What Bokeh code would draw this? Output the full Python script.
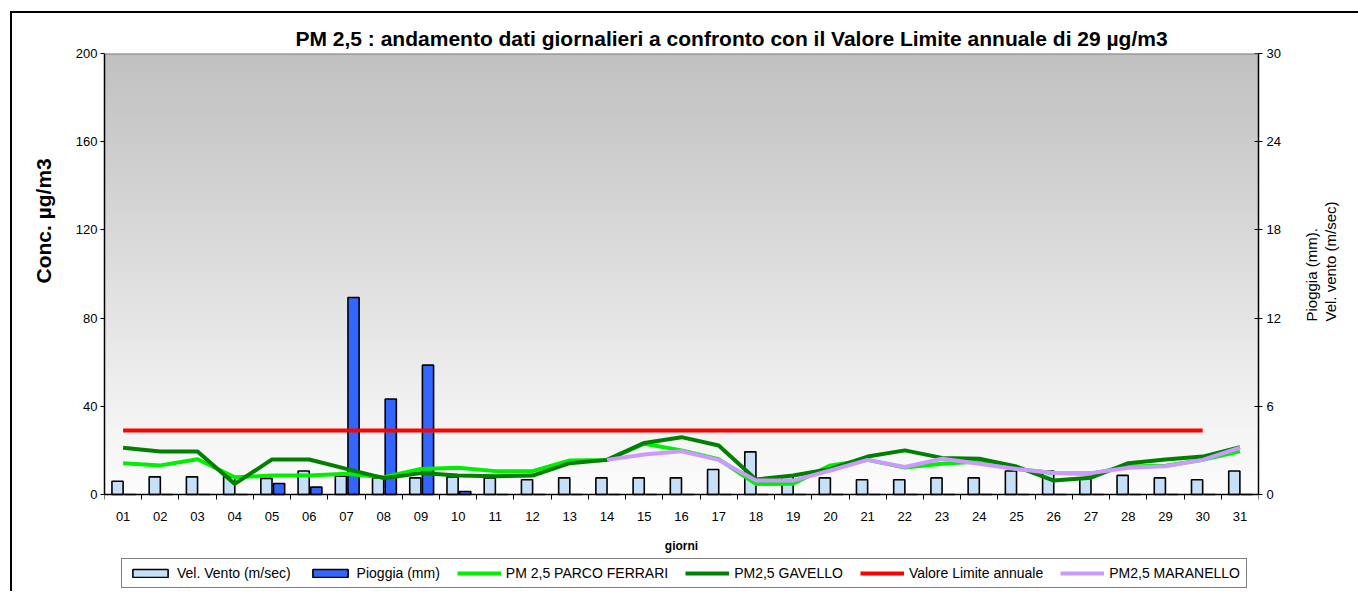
import math
import numpy as np
from bokeh.plotting import figure
from bokeh.models import (Range1d, LinearAxis, FixedTicker, Legend, LegendItem,
                          ColumnDataSource, Title, Span)
from bokeh.transform import dodge
from bokeh.core.properties import value
from bokeh.embed import file_html
from bokeh.resources import INLINE

nan = float("nan")

# ---------------- data ----------------
day_labels = ["01", "02", "03", "04", "05", "06", "07", "08", "09", "10",
              "11", "12", "13", "14", "15", "16", "17", "18", "19", "20",
              "21", "22", "23", "24", "25", "26", "27", "28", "29", "30", "31"]

vel_vento = [0.9, 1.2, 1.2, 1.2, 1.1, 1.6, 1.25, 1.13, 1.13, 1.2,
             1.13, 1.0, 1.13, 1.13, 1.13, 1.13, 1.7, 2.9, 1.25, 1.13,
             1.0, 1.0, 1.13, 1.13, 1.6, 1.6, 1.13, 1.3, 1.13, 1.0, 1.6]

pioggia = [0, 0, 0, 0, 0.75, 0.5, 13.4, 6.5, 8.8, 0.2,
           0, 0, 0, 0, 0, 0, 0, 0, 0, 0,
           0, 0, 0, 0, 0, 0, 0, 0, 0, 0, 0]

pm25_parco_ferrari = [14.2, 13.2, 16.0, 7.8, 8.6, 8.6, 9.4, 7.8, 11.6, 12.1,
                      10.6, 10.6, 15.4, 15.7, 23.0, 20.0, 16.0, 4.8, 4.9, 13.2,
                      15.7, 12.2, 13.9, 15.0, 11.6, 9.7, 9.4, 12.7, 13.0, 15.7, 19.6]

pm25_gavello = [21.2, 19.5, 19.5, 4.8, 15.9, 15.9, 11.6, 7.4, 9.7, 8.6,
                8.3, 8.6, 14.2, 15.7, 23.4, 26.0, 22.2, 6.8, 8.6, 11.6,
                17.2, 20.0, 16.6, 16.2, 12.7, 6.3, 7.6, 14.2, 15.9, 17.2, 21.5]

pm25_maranello = [nan, nan, nan, nan, nan, nan, nan, nan, nan, nan,
                  nan, nan, nan, 15.7, 18.1, 19.6, 15.7, 6.3, 6.3, 10.9,
                  15.7, 12.5, 16.2, 13.9, 11.6, 9.7, 9.7, 12.1, 12.8, 15.7, 21.2]

valore_limite = [29, 29, 29, 29, 29, 29, 29, 29, 29, 29,
                 29, 29, 29, 29, 29, 29, 29, 29, 29, 29,
                 29, 29, 29, 29, 29, 29, 29, 29, 29, 29, nan]

left_ticks = [0, 40, 80, 120, 160, 200]
right_ticks = [0, 6, 12, 18, 24, 30]

# ---------------- layout constants (pixels) ----------------
PLOT_H = 441          # height of the data area (0..200)
EXTRA_H = 95          # room under the data area for day labels / legend
FRAME_H = PLOT_H + EXTRA_H
L_MAX, R_MAX = 200.0, 30.0
l_bottom = -L_MAX * EXTRA_H / PLOT_H
r_bottom = -R_MAX * EXTRA_H / PLOT_H

x = list(range(1, len(day_labels) + 1))
src = ColumnDataSource(dict(x=x, vento=vel_vento, pioggia=pioggia))

FONT = "Liberation Sans"

p = figure(frame_width=1154, frame_height=FRAME_H, output_backend="svg", toolbar_location=None,
           x_range=Range1d(0.5, len(day_labels) + 0.5), y_range=Range1d(l_bottom, L_MAX),
           min_border_left=88, min_border_right=96, min_border_top=40,
           min_border_bottom=2, x_axis_location=None, y_axis_location=None)
p.margin = (11, 0, 0, 10)
p.styles = {"border-top": "2px solid black", "border-left": "2px solid black",
            "border-right": "2px solid black"}
p.extra_y_ranges = {"right": Range1d(r_bottom, R_MAX)}
p.background_fill_color = "white"
p.border_fill_color = "white"
p.outline_line_color = None

# gradient plot background (grey at top -> white at bottom), nested bands
nb = 120
tops = np.linspace(L_MAX, 0, nb, endpoint=False)
cols = []
for t in tops:
    f = t / L_MAX
    g = int(round(253 - (253 - 192) * f))
    cols.append("#%02x%02x%02x" % (g, g, g))
p.quad(left=0.5, right=len(day_labels) + 0.5, bottom=0, top=tops,
       fill_color=cols, line_color=None)
p.add_layout(Span(location=L_MAX, dimension="width", line_color="#808080", line_width=2))

# title
p.title.text = "PM 2,5 : andamento dati giornalieri a confronto con il Valore Limite annuale  di  29 µg/m3"
p.title.text_font = FONT
p.title.text_font_size = "21px"
p.title.text_font_style = "bold"
p.title.text_color = "black"
p.title.align = "left"
p.title.offset = 191
p.title.standoff = 7

# x axis drawn at value 0
xax = LinearAxis(ticker=FixedTicker(ticks=x, minor_ticks=[v - 0.5 for v in x] + [x[-1] + 0.5]),
                 fixed_location=0)
xax.major_label_overrides = {v: lab for v, lab in zip(x, day_labels)}
xax.major_tick_line_color = None
xax.major_tick_out = 5
xax.minor_tick_in = 0
xax.minor_tick_out = 5
xax.minor_tick_line_color = "black"
xax.minor_tick_line_width = 1
xax.axis_line_color = "black"
xax.axis_line_width = 1.5
xax.major_label_standoff = 12
xax.major_label_text_font = FONT
xax.major_label_text_font_size = "13px"
xax.major_label_text_color = "black"
p.add_layout(xax, "below")

# x axis title (51 px under the zero line)
p.text(x=[(x[0] + x[-1]) / 2], y=[l_bottom * 51 / EXTRA_H], text=["giorni"],
       text_align="center", text_baseline="middle", text_font=value(FONT),
       text_font_size="12px", text_font_style="bold", text_color="black")

yl = LinearAxis(ticker=FixedTicker(ticks=left_ticks), bounds=(0, L_MAX))
yl.major_tick_in = 0
yl.major_tick_out = 4
yl.minor_tick_line_color = None
yl.axis_line_width = 1.5
yl.major_label_standoff = 3
yl.major_label_text_font = FONT
yl.major_label_text_font_size = "13px"
yl.major_label_text_color = "black"
p.add_layout(yl, "left")

left_title = Title(text="Conc. µg/m3", align="left", offset=EXTRA_H + 211, standoff=35,
                   text_font=FONT, text_font_size="21px", text_font_style="bold",
                   text_color="black")
p.add_layout(left_title, "left")

yr = LinearAxis(y_range_name="right", ticker=FixedTicker(ticks=right_ticks), bounds=(0, R_MAX))
yr.major_tick_in = 4
yr.major_tick_out = 4
yr.minor_tick_line_color = None
yr.axis_line_width = 1.5
yr.major_label_standoff = 4
yr.major_label_text_font = FONT
yr.major_label_text_font_size = "13px"
yr.major_label_text_color = "black"
yr.axis_label = "Pioggia (mm).\nVel. vento (m/sec)"
yr.axis_label_text_font = FONT
yr.axis_label_text_font_size = "15px"
yr.axis_label_text_font_style = "normal"
yr.axis_label_text_color = "black"
yr.axis_label_text_line_height = 1.1
yr.axis_label_standoff = 37
try:
    yr.axis_label_orientation = math.pi / 2
except Exception:
    pass
p.add_layout(yr, "right")

p.ygrid.ticker = FixedTicker(ticks=left_ticks[1:-1])
p.ygrid.grid_line_color = "black"
p.ygrid.grid_line_width = 1
p.xgrid.grid_line_color = None

# bars (right axis)
r_vento = p.vbar(x=dodge("x", -0.15, range=p.x_range), top="vento", width=0.30, source=src,
                 y_range_name="right", fill_color="#c6e0fa", line_color="black",
                 line_width=1.6)
r_pioggia = p.vbar(x=dodge("x", 0.19, range=p.x_range), top="pioggia", width=0.30, source=src,
                   y_range_name="right", fill_color="#3366ff", line_color="black",
                   line_width=1.6)

# lines (left axis)
r_pf = p.line(x, pm25_parco_ferrari, line_color="#00ee00", line_width=4, line_join="round")
r_gav = p.line(x, pm25_gavello, line_color="#008000", line_width=4, line_join="round")
r_lim = p.line(x, valore_limite, line_color="#ff0000", line_width=4)
r_mar = p.line(x, pm25_maranello, line_color="#cc99ff", line_width=4, line_join="round")

legend = Legend(items=[
    LegendItem(label="Vel. Vento (m/sec)", renderers=[r_vento]),
    LegendItem(label="Pioggia (mm)", renderers=[r_pioggia]),
    LegendItem(label="PM 2,5 PARCO FERRARI", renderers=[r_pf]),
    LegendItem(label="PM2,5 GAVELLO", renderers=[r_gav]),
    LegendItem(label="Valore Limite annuale", renderers=[r_lim]),
    LegendItem(label="PM2,5 MARANELLO", renderers=[r_mar]),
], orientation="horizontal", location=(17, 1))
legend.label_text_font = FONT
legend.label_text_font_size = "14px"
legend.label_text_color = "black"
legend.glyph_width = 44
legend.glyph_height = 10
legend.label_standoff = 5
legend.spacing = 17
legend.padding = 6
legend.margin = 0
legend.border_line_color = "black"
legend.border_line_width = 1.5
legend.background_fill_color = "white"
legend.background_fill_alpha = 1
p.add_layout(legend, "center")

open("out.html", "w").write(file_html(p, INLINE))
